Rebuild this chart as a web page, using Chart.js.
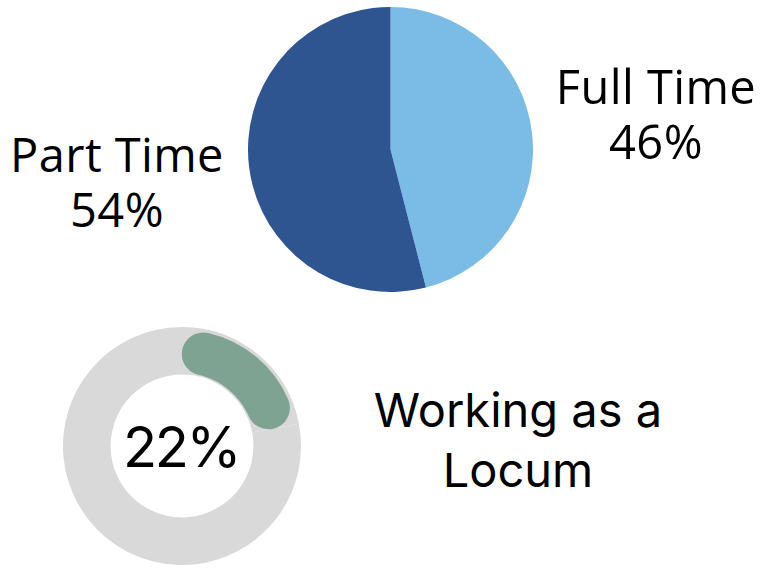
<!DOCTYPE html>
<html>
<head>
<meta charset="utf-8">
<script src="https://cdn.jsdelivr.net/npm/chart.js@4.4.1/dist/chart.umd.min.js"></script>
<style>
  html, body { margin: 0; padding: 0; background: #fff; }
  #stage { position: relative; width: 761px; height: 568px; overflow: hidden; }
  canvas { position: absolute; }
  .lbl { position: absolute; text-align: center; color: #000; white-space: nowrap; }
  .pieLbl { font-family: "Open Sans", sans-serif; font-size: 47px; line-height: 55px; width: 260px; letter-spacing: 0.4px; }
  .locLbl { font-family: Inter, sans-serif; font-size: 47px; line-height: 60px; width: 340px; }
  #centerPct { font-family: Inter, sans-serif; font-size: 56px; line-height: 57px; width: 200px; letter-spacing: -2.5px; }
</style>
</head>
<body>
<div id="stage">
  <canvas id="pie" width="285" height="285" style="left:248px; top:7px;"></canvas>
  <canvas id="ring" width="238" height="238" style="left:63px; top:327px;"></canvas>
  <canvas id="arc" width="232" height="232" style="left:66px; top:330px;"></canvas>

  <div class="lbl pieLbl" id="lblPart" style="left:-13px; top:127px;"></div>
  <div class="lbl pieLbl" id="lblFull" style="left:526px; top:59px;"></div>
  <div class="lbl" id="centerPct" style="left:81px; top:419px;"></div>
  <div class="lbl locLbl" id="lblLocum" style="left:348px; top:380px;"></div>
</div>

<script>
// work pattern split (pie)
const workLabels = ['Full Time', 'Part Time'];
const workValues = [46, 54];
const workColors = ['#7BBCE7', '#2E5590'];

// locum share (ring)
const locumLabels = ['Working as a Locum', 'Other'];
const locumValues = [22, 78];
const locumTrack = '#D9D9D9';
const locumColor = '#7FA392';

const baseOpts = {
  responsive: false,
  animation: false,
  events: [],
  plugins: { legend: { display: false }, tooltip: { enabled: false } },
  layout: { padding: 0 },
};

new Chart(document.getElementById('pie'), {
  type: 'pie',
  data: {
    labels: workLabels,
    datasets: [{ data: workValues, backgroundColor: workColors, borderWidth: 0 }],
  },
  options: baseOpts,
});

// grey track behind the green arc
new Chart(document.getElementById('ring'), {
  type: 'doughnut',
  data: {
    labels: locumLabels,
    datasets: [{ data: locumValues, backgroundColor: [locumTrack, locumTrack], borderWidth: 0 }],
  },
  options: { ...baseOpts, cutout: '60%' },
});

// rounded green arc on top
new Chart(document.getElementById('arc'), {
  type: 'doughnut',
  data: {
    labels: locumLabels,
    datasets: [{
      data: locumValues,
      backgroundColor: [locumColor, 'rgba(0,0,0,0)'],
      borderWidth: 0,
      borderRadius: 22,
    }],
  },
  options: { ...baseOpts, cutout: '63%' },
});

// text labels
document.getElementById('lblFull').innerHTML = workLabels[0] + '<br>' + workValues[0] + '%';
document.getElementById('lblPart').innerHTML = workLabels[1] + '<br>' + workValues[1] + '%';
document.getElementById('centerPct').textContent = locumValues[0] + '%';
document.getElementById('lblLocum').innerHTML = 'Working as a<br>Locum';
</script>
</body>
</html>
